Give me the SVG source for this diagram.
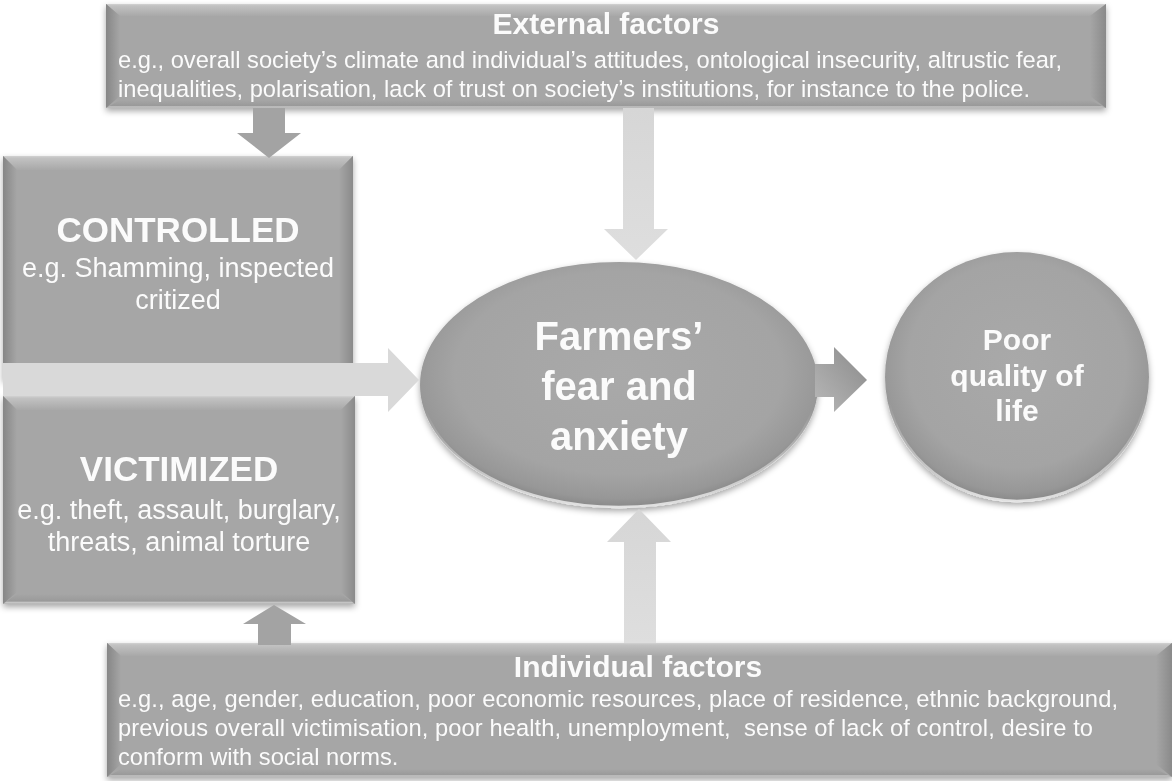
<svg xmlns="http://www.w3.org/2000/svg" width="1172" height="781" viewBox="0 0 1172 781">
<style>
text{font-family:"Liberation Sans",Arial,sans-serif;fill:#fbfbfb}
.t{font-weight:bold;text-anchor:middle}
.s{font-size:27px;text-anchor:middle}
.b{font-size:23.7px}
.base{fill:#a6a6a6}
.lt{fill:#d9d9d9}
.dk{fill:#a3a3a3}
</style>
<defs>
<filter id="sh" x="-5%" y="-5%" width="110%" height="115%">
<feDropShadow dx="0" dy="3" stdDeviation="3" flood-color="#000" flood-opacity="0.35"/>
</filter>
<linearGradient id="gTop" x1="0" y1="0" x2="0" y2="1">
<stop offset="0" stop-color="#d2d2d2"/><stop offset="0.15" stop-color="#c2c2c2"/><stop offset="1" stop-color="#a8a8a8"/>
</linearGradient>
<linearGradient id="gLeft" x1="0" y1="0" x2="1" y2="0">
<stop offset="0" stop-color="#868686"/><stop offset="1" stop-color="#a6a6a6"/>
</linearGradient>
<linearGradient id="gRight" x1="0" y1="0" x2="1" y2="0">
<stop offset="0" stop-color="#a6a6a6"/><stop offset="1" stop-color="#8a8a8a"/>
</linearGradient>
<linearGradient id="gBot" x1="0" y1="0" x2="0" y2="1">
<stop offset="0" stop-color="#a6a6a6"/><stop offset="0.7" stop-color="#9a9a9a"/><stop offset="0.85" stop-color="#c4c4c4"/><stop offset="1" stop-color="#b4b4b4"/>
</linearGradient>
<radialGradient id="gEll" cx="0.5" cy="0.45" r="0.55">
<stop offset="0" stop-color="#a9a9a9"/><stop offset="0.75" stop-color="#a4a4a4"/><stop offset="0.93" stop-color="#979797"/><stop offset="1" stop-color="#888888"/>
</radialGradient>
<linearGradient id="gRim" x1="0" y1="0" x2="0" y2="1">
<stop offset="0" stop-color="#ffffff" stop-opacity="0"/><stop offset="0.6" stop-color="#ffffff" stop-opacity="0"/><stop offset="1" stop-color="#ffffff" stop-opacity="0.75"/>
</linearGradient>
<linearGradient id="gArr" x1="0" y1="1" x2="1" y2="0">
<stop offset="0" stop-color="#b8b8b8"/><stop offset="1" stop-color="#8a8a8a"/>
</linearGradient>
<linearGradient id="gV" x1="0" y1="0" x2="0" y2="1">
<stop offset="0" stop-color="#d6d6d6"/><stop offset="1" stop-color="#dedede"/>
</linearGradient>
</defs>

<g id="external-factors" filter="url(#sh)">
<rect class="base" x="106" y="4" width="1000" height="104"/>
<polygon fill="url(#gTop)" points="106,4 1106,4 1090,16 120,16"/>
<polygon fill="url(#gLeft)" points="106,4 120,16 120,96 106,108"/>
<polygon fill="url(#gRight)" points="1106,4 1106,108 1090,96 1090,16"/>
<polygon fill="url(#gBot)" points="106,108 1106,108 1090,100 120,100"/>
<text class="t" x="606" y="34" font-size="30">External factors</text>
<text class="b" x="118" y="68">e.g., overall society’s climate and individual’s attitudes, ontological insecurity, altrustic fear,</text>
<text class="b" x="118" y="97">inequalities, polarisation, lack of trust on society’s institutions, for instance to the police.</text>
</g>

<g id="controlled" filter="url(#sh)">
<rect class="base" x="3" y="156" width="350" height="224"/>
<polygon fill="url(#gTop)" points="3,156 353,156 339,170 17,170"/>
<polygon fill="url(#gLeft)" points="3,156 17,170 17,380 3,380"/>
<polygon fill="url(#gRight)" points="353,156 353,380 339,380 339,170"/>
<text class="t" x="178" y="242" font-size="35">CONTROLLED</text>
<text class="s" x="178" y="277">e.g. Shamming, inspected</text>
<text class="s" x="178" y="309">critized</text>
</g>

<g id="victimized" filter="url(#sh)">
<rect class="base" x="3" y="396" width="352" height="208"/>
<polygon fill="url(#gTop)" points="3,396 355,396 341,410 17,410"/>
<polygon fill="url(#gLeft)" points="3,396 17,410 17,592 3,604"/>
<polygon fill="url(#gRight)" points="355,396 355,604 341,592 341,410"/>
<polygon fill="url(#gBot)" points="3,604 355,604 341,594 17,594"/>
<text class="t" x="179" y="481" font-size="35">VICTIMIZED</text>
<text class="s" x="179" y="519">e.g. theft, assault, burglary,</text>
<text class="s" x="179" y="551">threats, animal torture</text>
</g>

<g id="farmers-fear" filter="url(#sh)">
<ellipse cx="619" cy="385" rx="199" ry="123" fill="url(#gEll)"/>
<ellipse cx="619" cy="385" rx="198" ry="122" fill="none" stroke="url(#gRim)" stroke-width="2.5"/>
<text class="t" x="619" y="350" font-size="40">Farmers’</text>
<text class="t" x="619" y="400" font-size="40">fear and</text>
<text class="t" x="619" y="450" font-size="40">anxiety</text>
</g>

<g id="poor-quality" filter="url(#sh)">
<ellipse cx="1017" cy="377" rx="132" ry="125" fill="url(#gEll)"/>
<ellipse cx="1017" cy="377" rx="131" ry="124" fill="none" stroke="url(#gRim)" stroke-width="2.5"/>
<text class="t" x="1017" y="350" font-size="30">Poor</text>
<text class="t" x="1017" y="386" font-size="30">quality of</text>
<text class="t" x="1017" y="421" font-size="30">life</text>
</g>

<g id="individual-factors" filter="url(#sh)">
<rect class="base" x="107" y="643" width="1065" height="134"/>
<polygon fill="url(#gTop)" points="107,643 1172,643 1156,656 121,656"/>
<polygon fill="url(#gLeft)" points="107,643 121,656 121,764 107,777"/>
<polygon fill="url(#gRight)" points="1172,643 1172,777 1156,764 1156,656"/>
<polygon fill="url(#gBot)" points="107,777 1172,777 1156,769 121,769"/>
<text class="t" x="638" y="677" font-size="30">Individual factors</text>
<text class="b" x="118" y="707" textLength="1000" lengthAdjust="spacing">e.g., age, gender, education, poor economic resources, place of residence, ethnic background,</text>
<text class="b" x="118" y="736" textLength="975" lengthAdjust="spacing" style="white-space:pre">previous overall victimisation, poor health, unemployment,  sense of lack of control, desire to</text>
<text class="b" x="118" y="765">conform with social norms.</text>
</g>

<g id="connectors">
<polygon class="dk" points="253,108 285,108 285,133 301,133 269,158 237,133 253,133"/>
<polygon fill="url(#gV)" points="623,108 654,108 654,229 668,229 636,260 604,229 623,229"/>
<polygon class="lt" points="3,363 388,363 388,348 419,380 388,412 388,396 3,396"/>
<polygon fill="url(#gArr)" points="815,364 834,364 834,347 867,380 834,412 834,397 815,397"/>
<polygon fill="url(#gV)" points="624,643 656,643 656,542 671,542 639,509 607,542 624,542"/>
<polygon class="dk" points="258,645 291,645 291,624 306,624 274,605 243,624 258,624"/>
</g>
</svg>
